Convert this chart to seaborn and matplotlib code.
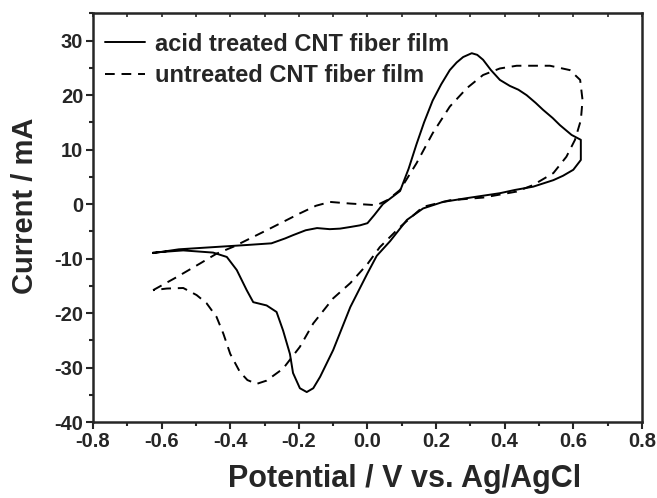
import numpy as np
import pandas as pd
import seaborn as sns
from matplotlib import pyplot as plt
from matplotlib.ticker import MultipleLocator

# acid treated CNT fiber film (solid), one closed CV loop
acid_v = [-0.625, -0.55, -0.45, -0.35, -0.28, -0.24, -0.217, -0.18, -0.147, -0.11, -0.08, -0.05,
          -0.022, 0.0, 0.02, 0.045, 0.07, 0.095, 0.12, 0.143, 0.165, 0.19, 0.215, 0.24, 0.26,
          0.279, 0.304, 0.32, 0.337, 0.36, 0.386, 0.415, 0.44, 0.464, 0.49, 0.512, 0.54, 0.561,
          0.595, 0.622, 0.622, 0.6, 0.57, 0.542, 0.483, 0.43, 0.386, 0.29, 0.22, 0.162, 0.115,
          0.066, 0.027, 0.0, -0.05, -0.1, -0.138, -0.158, -0.177, -0.197, -0.217, -0.226,
          -0.246, -0.265, -0.294, -0.333, -0.352, -0.381, -0.41, -0.45, -0.537, -0.625]
acid_i = [-9.0, -8.3, -7.9, -7.5, -7.2, -6.3, -5.7, -4.8, -4.4, -4.6, -4.5, -4.2,
          -3.9, -3.5, -2.0, 0.0, 1.2, 2.4, 6.5, 11.0, 15.0, 19.0, 22.0, 24.6, 26.0,
          27.0, 27.7, 27.4, 26.5, 24.6, 22.8, 21.7, 21.0, 20.0, 18.6, 17.3, 15.8, 14.5,
          12.7, 11.8, 8.1, 6.3, 5.2, 4.4, 3.2, 2.6, 2.0, 1.1, 0.4, -0.8, -2.9,
          -6.8, -9.5, -12.7, -18.9, -26.8, -31.7, -33.8, -34.5, -33.8, -31.0, -27.5,
          -23.2, -19.8, -18.6, -18.0, -15.8, -12.1, -9.7, -8.9, -8.5, -8.9]

# untreated CNT fiber film (dashed)
untr_v = [-0.625, -0.556, -0.488, -0.44, -0.39, -0.294, -0.197, -0.15, -0.109, -0.05, 0.027,
          0.06, 0.095, 0.143, 0.19, 0.24, 0.29, 0.337, 0.386, 0.435, 0.532, 0.59, 0.62, 0.627,
          0.622, 0.605, 0.58, 0.542, 0.483, 0.435, 0.337, 0.24, 0.162, 0.095, 0.036, 0.0,
          -0.05, -0.1, -0.158, -0.197, -0.246, -0.294, -0.323, -0.35, -0.372, -0.4, -0.42,
          -0.44, -0.469, -0.498, -0.537, -0.585, -0.625]
untr_i = [-15.8, -13.4, -10.9, -9.1, -7.8, -4.8, -1.7, -0.3, 0.4, 0.1, -0.2,
          0.8, 2.6, 7.5, 13.0, 17.9, 21.3, 23.7, 24.9, 25.4, 25.4, 24.6, 22.8, 19.1,
          15.4, 11.8, 8.7, 5.7, 3.5, 2.3, 1.2, 0.7, -0.5, -4.2, -7.9, -11.0,
          -14.5, -17.3, -21.9, -26.2, -30.2, -32.4, -33.0, -32.3, -30.8, -27.5, -23.8,
          -20.7, -18.2, -16.7, -15.4, -15.5, -15.8]

labels = ['acid treated CNT fiber film', 'untreated CNT fiber film']

df = pd.concat([
    pd.DataFrame({'v': acid_v, 'i': acid_i, 'film': labels[0]}),
    pd.DataFrame({'v': untr_v, 'i': untr_i, 'film': labels[1]}),
])

sns.set_style('ticks')
plt.rcParams['font.family'] = ['Liberation Sans', 'DejaVu Sans']
plt.rcParams['font.weight'] = 'bold'

fig = plt.figure(figsize=(6.57, 4.98), dpi=100)
ax = fig.add_axes([0.1416, 0.1526, 0.8354, 0.8204])

# one call per film so the loops keep their scan order
for lab in labels:
    sub = df[df['film'] == lab]
    sns.lineplot(data=sub, x='v', y='i', sort=False, estimator=None, color='black',
                 linewidth=1.4, label=lab, ax=ax)
ax.lines[1].set_dashes((5, 3.5))

ax.set_xlim(-0.8, 0.8)
ax.set_ylim(-40, 35)
ax.xaxis.set_minor_locator(MultipleLocator(0.1))
ax.yaxis.set_minor_locator(MultipleLocator(5))
ax.set_xticks(np.arange(-0.8, 0.81, 0.2))
ax.set_xticklabels(['-0.8', '-0.6', '-0.4', '-0.2', '0.0', '0.2', '0.4', '0.6', '0.8'])
ax.set_yticks(np.arange(-40, 31, 10))
ax.set_yticklabels([str(t) for t in range(-40, 31, 10)])
ax.tick_params(which='major', direction='out', length=5, width=1.5, labelsize=14.5, pad=2)
ax.tick_params(which='minor', direction='out', length=3, width=1.5)
for s in ax.spines.values():
    s.set_linewidth(1.8)
    s.set_visible(True)

top = ax.secondary_xaxis('top')
top.xaxis.set_major_locator(MultipleLocator(0.1))
top.tick_params(direction='in', length=3, width=1.2, labelsize=0)
top.set_xticklabels([])

ax.set_xlabel('Potential / V vs. Ag/AgCl', fontsize=22, fontweight='bold')
ax.set_ylabel('Current / mA', fontsize=21, fontweight='bold')
ax.xaxis.set_label_coords(0.567, -0.103)
ax.yaxis.set_label_coords(-0.099, 0.53)

leg = ax.legend(loc='upper left', bbox_to_anchor=(0.022, 0.953), frameon=False, fontsize=17,
                handlelength=1.7, handletextpad=0.4, borderaxespad=0, borderpad=0,
                labelspacing=0.36)
for h in leg.get_lines():
    h.set_linewidth(1.4)

fig.savefig('out.png', dpi=100)
